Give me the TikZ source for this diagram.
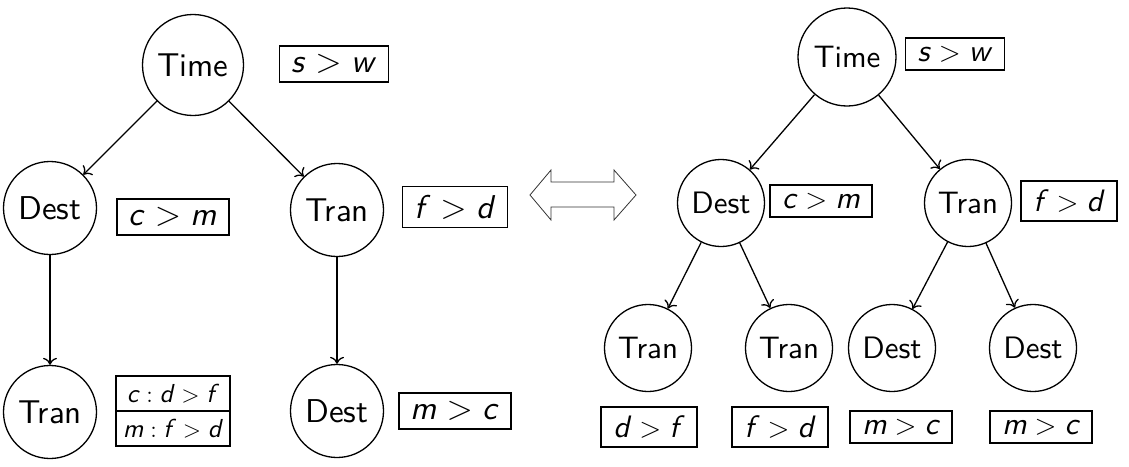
\documentclass[tikz,border=0pt]{standalone}
\usepackage{fontspec}
\setsansfont{lmsans10-regular.otf}[ItalicFont=lmsans10-oblique.otf]
\usetikzlibrary{shapes.multipart}
\usetikzlibrary{arrows.meta}
\newcommand{\pref}[2]{\textit{#1}${}>{}$\textit{#2}}

\begin{document}
\begin{tikzpicture}[x=0.5pt, y=-0.5pt, >={To[length=3.5pt, width=7pt]}, line width=0.65pt,
  state/.style={draw, circle, minimum size=46.5pt, inner sep=1pt, font=\sffamily\fontsize{16.5}{20}\selectfont},
  small state/.style={state, minimum size=43.5pt, font=\sffamily\fontsize{15.5}{19}\selectfont},
  rulebox/.style={draw, rectangle, line width=0.9pt, inner xsep=6pt, inner ysep=4.2pt, font=\sffamily\fontsize{16.5}{20}\selectfont},
  small rulebox/.style={rulebox, font=\sffamily\fontsize{15.5}{19}\selectfont}]
  \useasboundingbox (0,0) rectangle (1129,466);

  % left tree
  \node[state, minimum size=50.5pt] (LTime) at (193,65) {Time};
  \node[state] (LDest) at (50,208) {Dest};
  \node[state] (LTran) at (337,210) {Tran};
  \node[state] (LTran2) at (50,412) {Tran};
  \node[state] (LDest2) at (337,411) {Dest};

  \node[rulebox] (LTimeR) at (334,64) {\pref{s}{w}};
  \node[rulebox] (LDestR) at (173,217) {\pref{c}{m}};
  \node[rulebox] (LTranR) at (455,207) {\pref{f}{d}};
  \node[rulebox, rectangle split, rectangle split parts=2, inner xsep=3.5pt, inner ysep=3.5pt,
    font=\sffamily\fontsize{13}{15}\selectfont] (LTran2R) at (173,411)
    {\textit{c}${}:{}$\pref{d}{f} \nodepart{two} \textit{m}${}:{}$\pref{f}{d}};
  \node[rulebox] (LDest2R) at (455,411) {\pref{m}{c}};

  \draw[->] (LTime) -- (LDest);
  \draw[->] (LTime) -- (LTran);
  \draw[->] (LDest) -- (LTran2);
  \draw[->] (LTran) -- (LDest2);

  % the two trees are the same
  \draw[black!80, line width=0.4pt] (530,195) -- (551,170) -- (551,182) -- (614,182) -- (614,170) -- (636,195)
    -- (614,220) -- (614,207) -- (551,207) -- (551,220) -- cycle;

  % right tree
  \node[small state, minimum size=49pt] (RTime) at (847,57) {Time};
  \node[small state] (RDest) at (721,203) {Dest};
  \node[small state] (RTran) at (968,203) {Tran};
  \node[small state] (RTran1) at (648,348) {Tran};
  \node[small state] (RTran2) at (789,348) {Tran};
  \node[small state] (RDest1) at (892,348) {Dest};
  \node[small state] (RDest2) at (1033,348) {Dest};

  \node[small rulebox] (RTimeR) at (955,54) {\pref{s}{w}};
  \node[small rulebox] (RDestR) at (821,201) {\pref{c}{m}};
  \node[small rulebox] (RTranR) at (1069,201) {\pref{f}{d}};
  \node[small rulebox] (RTran1R) at (649,427) {\pref{d}{f}};
  \node[small rulebox] (RTran2R) at (780,427) {\pref{f}{d}};
  \node[small rulebox] (RDest1R) at (901,427) {\pref{m}{c}};
  \node[small rulebox] (RDest2R) at (1041,427) {\pref{m}{c}};

  \draw[->] (RTime) -- (RDest);
  \draw[->] (RTime) -- (RTran);
  \draw[->] (RDest) -- (RTran1);
  \draw[->] (RDest) -- (RTran2);
  \draw[->] (RTran) -- (RDest1);
  \draw[->] (RTran) -- (RDest2);
\end{tikzpicture}
\end{document}
